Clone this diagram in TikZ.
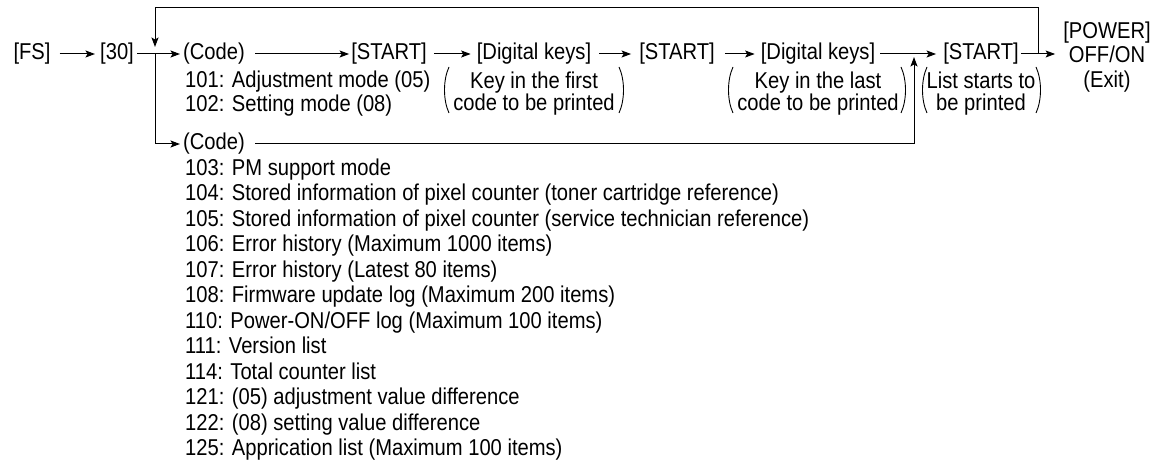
\documentclass[tikz,border=0pt]{standalone}
\usepackage{fontspec}
\setmainfont{Liberation Sans}[FakeStretch=0.88]
\usetikzlibrary{arrows.meta}
\begin{document}
\begin{tikzpicture}[x=1bp,y=-1bp, font=\fontsize{23}{25}\selectfont,
  lbl/.style={inner sep=0pt, text height=16.7bp, text depth=4.8bp},
  txt/.style={inner sep=0pt, anchor=base west},
  ctxt/.style={inner sep=0pt, anchor=base},
  arr/.style={-{Stealth[length=9.5bp,width=7bp,inset=2bp]}, line width=1bp},
  paren/.style={line width=0.9bp}]
\useasboundingbox (0,0) rectangle (1156,460);
% main row
\node[lbl] (fs) at (32,54) {[FS]};
\node[lbl] (n30) at (117,54) {[30]};
\node[lbl,anchor=west] (code1) at (183,54) {(Code)};
\node[lbl] (start1) at (389,54) {[START]};
\node[lbl] (dk1) at (534,54) {[Digital keys]};
\node[lbl] (start2) at (677,54) {[START]};
\node[lbl] (dk2) at (818,54) {[Digital keys]};
\node[lbl] (start3) at (981,54) {[START]};
\node[align=center, inner sep=0pt] (power) at (1107,57) {[POWER]\\OFF/ON\\(Exit)};
% sub texts
\node[txt] (m101) at (185,88) {101: Adjustment mode (05)};
\node[txt] (m102) at (185,112) {102: Setting mode (08)};
\node[ctxt] (g1a) at (534,89) {Key in the first};
\node[ctxt] (g1b) at (534,111) {code to be printed};
\node[ctxt] (g2a) at (818,89) {Key in the last};
\node[ctxt] (g2b) at (818,111) {code to be printed};
\node[ctxt] (g3a) at (981,89) {List starts to};
\node[ctxt] (g3b) at (981,111) {be printed};
% parentheses
\draw[paren] (449,67) .. controls (443,80) and (443,100) .. (449,113);
\draw[paren] (619,67) .. controls (625,80) and (625,100) .. (619,113);
\draw[paren] (733,67) .. controls (727,80) and (727,100) .. (733,113);
\draw[paren] (901,67) .. controls (907,80) and (907,100) .. (901,113);
\draw[paren] (927,67) .. controls (921,80) and (921,100) .. (927,113);
\draw[paren] (1036,67) .. controls (1042,80) and (1042,100) .. (1036,113);
% second code and list
\node[lbl,anchor=west] (code2) at (183,144) {(Code)};
\foreach \t [count=\i] in {103: PM support mode,
  104: Stored information of pixel counter (toner cartridge reference),
  105: Stored information of pixel counter (service technician reference),
  106: Error history (Maximum 1000 items),
  107: Error history (Latest 80 items),
  108: Firmware update log (Maximum 200 items),
  110: Power-ON/OFF log (Maximum 100 items),
  111: Version list,
  114: Total counter list,
  121: (05) adjustment value difference,
  122: (08) setting value difference,
  125: Apprication list (Maximum 100 items)}
  \node[txt] (l\i) at (185,{150+25.5*\i}) {\t};
% connectors
\coordinate (j1) at (155,54);
\coordinate (j2) at (914,54);
\coordinate (j3) at (1038,54);
\coordinate (top) at (155,8);
\draw[arr, shorten <=9bp, shorten >=5bp] (fs) -- (n30);
\draw[arr, shorten <=3bp, shorten >=3bp] (n30) -- (code1);
\draw[arr, shorten <=10bp, shorten >=2bp] (code1) -- (start1);
\draw[arr, shorten <=7bp, shorten >=6bp] (start1) -- (dk1);
\draw[arr, shorten <=8bp, shorten >=8bp] (dk1) -- (start2);
\draw[arr, shorten <=10bp, shorten >=6bp] (start2) -- (dk2);
\draw[arr, shorten <=5bp, shorten >=7bp] (dk2) -- (start3);
\draw[arr, shorten <=2bp, shorten >=8bp] (start3) -- (start3 -| power.west);
\draw[arr, shorten >=7bp] (j3) |- (top) -- (j1);
\draw[arr, shorten >=3bp] (j1) |- (code2);
\draw[arr, shorten <=10bp, shorten >=3bp] (code2) -| (j2);
\end{tikzpicture}
\end{document}
